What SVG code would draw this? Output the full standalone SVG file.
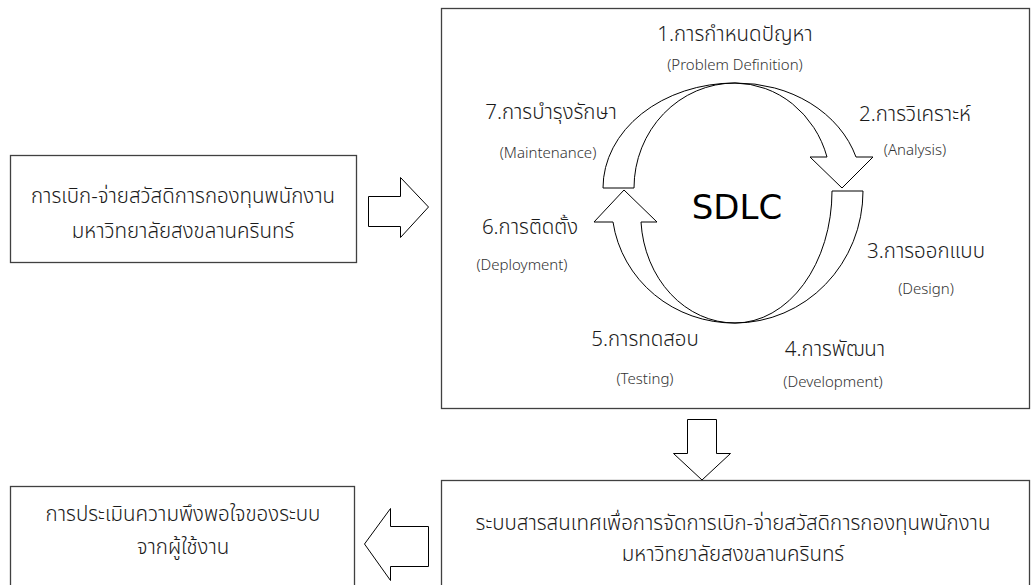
<svg xmlns="http://www.w3.org/2000/svg" width="1032" height="585" viewBox="0 0 1032 585">
<style>
  .box { fill: #ffffff; stroke: #404040; stroke-width: 1.3; }
  .arr { fill: #ffffff; stroke: #000000; stroke-width: 1; stroke-linejoin: miter; }
  text { font-family: "Noto Sans Thai", "Leelawadee UI", Tahoma, "DejaVu Sans", "Noto Sans", sans-serif; fill: #1a1a1a; text-anchor: middle; font-weight: 300; }
  .th { font-size: 20.5px; }
  .en { font-size: 15px; fill: #333333; }
  .big { font-size: 34px; fill: #000000; font-weight: 400; font-family: "DejaVu Sans", "Noto Sans", sans-serif; }
</style>
<rect width="1032" height="585" fill="#ffffff"/>

<g id="input">
  <rect class="box" x="10.5" y="155.5" width="346" height="107"/>
  <text class="th" x="183" y="203">การเบิก-จ่ายสวัสดิการกองทุนพนักงาน</text>
  <text class="th" x="183" y="238">มหาวิทยาลัยสงขลานครินทร์</text>
</g>

<g id="sdlc">
  <rect class="box" x="441.5" y="8.5" width="588" height="400"/>
  <text class="big" x="737" y="219">SDLC</text>
  <text class="th" x="735" y="41">1.การกำหนดปัญหา</text>
  <text class="en" x="735" y="70">(Problem Definition)</text>
  <text class="th" x="551" y="119">7.การบำรุงรักษา</text>
  <text class="en" x="548" y="158">(Maintenance)</text>
  <text class="th" x="915" y="121">2.การวิเคราะห์</text>
  <text class="en" x="915" y="155">(Analysis)</text>
  <text class="th" x="926" y="258">3.การออกแบบ</text>
  <text class="en" x="926" y="294">(Design)</text>
  <text class="th" x="835" y="356">4.การพัฒนา</text>
  <text class="en" x="833" y="387">(Development)</text>
  <text class="th" x="645" y="346">5.การทดสอบ</text>
  <text class="en" x="645" y="384">(Testing)</text>
  <text class="th" x="530" y="234">6.การติดตั้ง</text>
  <text class="en" x="522" y="270">(Deployment)</text>
</g>

<g id="system">
  <rect class="box" x="441.5" y="480.5" width="588" height="120"/>
  <text class="th" x="733" y="530">ระบบสารสนเทศเพื่อการจัดการเบิก-จ่ายสวัสดิการกองทุนพนักงาน</text>
  <text class="th" x="733" y="561">มหาวิทยาลัยสงขลานครินทร์</text>
</g>

<g id="evaluation">
  <rect class="box" x="10.5" y="486.5" width="344" height="120"/>
  <text class="th" x="183" y="521">การประเมินความพึงพอใจของระบบ</text>
  <text class="th" x="183" y="554">จากผู้ใช้งาน</text>
</g>

<g id="connectors">
  <!-- input to SDLC -->
  <path class="arr" d="M368.5,196.5 H400.5 V177.5 L428.5,207 L400.5,237.5 V226.5 H368.5 Z"/>
  <!-- SDLC to system -->
  <path class="arr" d="M687.5,419.5 H716.5 V453.5 H730.5 L702,480 L673.5,453.5 H687.5 Z"/>
  <!-- system to evaluation -->
  <path class="arr" d="M428.5,526.5 H390.5 V508.5 L364.5,544 L390.5,580.5 V566.5 H428.5 Z"/>
  <!-- SDLC cycle upper arrow -->
  <path class="arr" d="M603,188 A132,105 0 0 1 735,83 A125,105 0 0 1 856,157 L873,157 L842,188 L810,157 L827,157 A97,103 0 0 0 735,83 A101,105 0 0 0 634,188 Z"/>
  <!-- SDLC cycle lower arrow -->
  <path class="arr" d="M863,191 A128,132 0 0 1 735,323 A122,118 0 0 1 613,222 L594,222 L624,190 L657,222 L641,222 A94,108 0 0 0 735,323 A97,132 0 0 0 832,191 Z"/>
</g>
</svg>
